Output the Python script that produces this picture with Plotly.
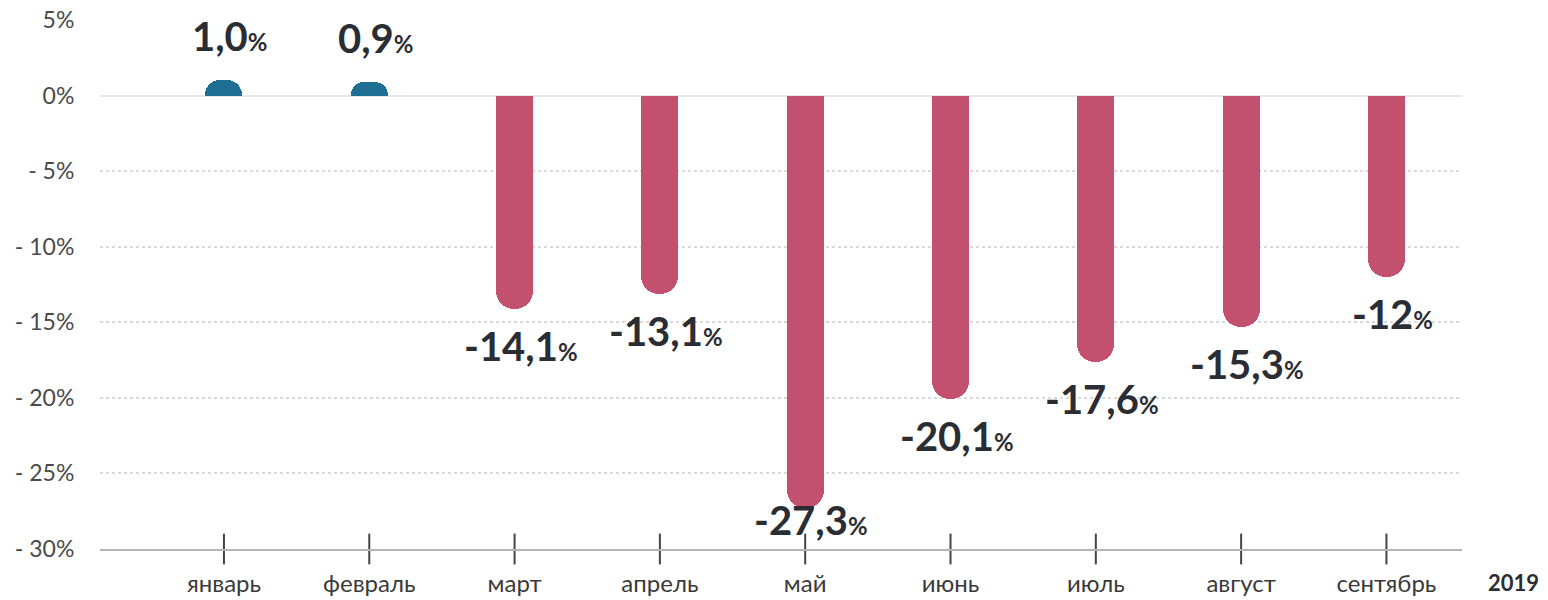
import plotly.graph_objects as go

months = ["январь", "февраль", "март", "апрель", "май", "июнь", "июль", "август", "сентябрь"]
values = [1.0, 0.9, -14.1, -13.1, -27.3, -20.1, -17.6, -15.3, -12.0]
value_labels = ["1,0", "0,9", "-14,1", "-13,1", "-27,3", "-20,1", "-17,6", "-15,3", "-12"]
y_tickvals = [5, 0, -5, -10, -15, -20, -25, -30]
y_ticktext = ["5%", "0%", "- 5%", "- 10%", "- 15%", "- 20%", "- 25%", "- 30%"]
year_label = "2019"

BLUE = "#1f6e93"
PINK = "#c4506f"
DARK = "#2a2d33"
FONT = "Lato"

colors = [BLUE if v > 0 else PINK for v in values]

fig = go.Figure()
fig.add_trace(go.Bar(
    x=months, y=values, width=0.255,
    marker=dict(color=colors, cornerradius="50%", line=dict(width=0)),
    hoverinfo="skip", showlegend=False,
))
# tick marks crossing the bottom axis line
fig.add_trace(go.Scatter(
    x=months, y=[y_tickvals[-1]] * len(months), mode="markers",
    marker=dict(symbol="line-ns", size=22, line=dict(width=2, color="#444444")),
    cliponaxis=False, hoverinfo="skip", showlegend=False,
))

for m, v, t in zip(months, values, value_labels):
    if v > 0:
        y = v
        ys = 44
    else:
        y = max(v - 2.45, -28.1)
        ys = 0
    fig.add_annotation(
        x=m, y=y, xref="x", yref="y", showarrow=False,
        text=f"<b>{t}<span style='font-size:24px'>%</span></b>",
        font=dict(family=FONT, size=40, color=DARK),
        xanchor="center", yanchor="middle", xshift=6, yshift=ys,
    )

fig.add_annotation(
    x=1.0375, y=-0.064, xref="paper", yref="paper", showarrow=False,
    text=f"<b>{year_label}</b>", font=dict(family=FONT, size=22, color=DARK),
    xanchor="center", yanchor="middle",
)

fig.update_layout(
    width=1548, height=600,
    margin=dict(l=100, r=86, t=20, b=51, autoexpand=False),
    paper_bgcolor="white", plot_bgcolor="white",
    bargap=0,
    xaxis=dict(
        type="category", range=[-0.853, 8.52], automargin=False,
        showgrid=False, zeroline=False,
        showline=True, linecolor="#b5b5b5", linewidth=2,
        ticks="outside", ticklen=12, tickcolor="rgba(0,0,0,0)",
        tickfont=dict(family=FONT, size=24, color="#3a3a3a"),
    ),
    yaxis=dict(
        range=[-30, 5], tickvals=y_tickvals, ticktext=y_ticktext, automargin=False,
        showgrid=True, gridcolor="#d9d9d9", griddash="dot", gridwidth=1.5,
        zeroline=True, zerolinecolor="#e6e6e6", zerolinewidth=2,
        showline=False,
        ticks="outside", ticklen=20, tickcolor="rgba(0,0,0,0)",
        tickfont=dict(family=FONT, size=23, color="#4a4a4a"),
    ),
)

fig.write_html("out.html")
